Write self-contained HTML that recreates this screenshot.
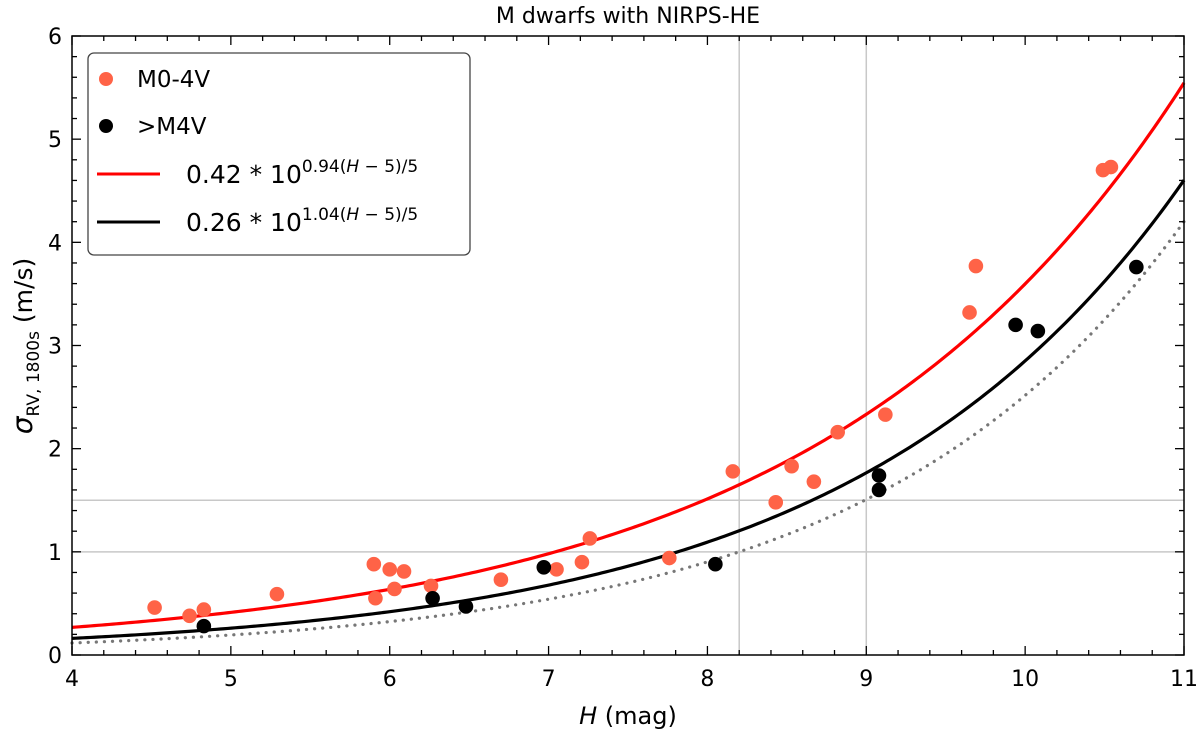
<!DOCTYPE html>
<html><head><meta charset="utf-8"><style>
body{margin:0;background:#fff;}
svg{display:block;font-family:"DejaVu Sans","Liberation Sans",sans-serif;}
</style></head><body>
<svg id="chart" width="1200" height="733" viewBox="0 0 1200 733">
<text x="628" y="23" text-anchor="middle" font-size="22">M dwarfs with NIRPS-HE</text>
<g id="grid"></g>
<g id="curves"></g>
<g id="points"></g>
<g id="axes"></g>
<text x="628" y="724" text-anchor="middle" font-size="24"><tspan font-style="italic">H</tspan> (mag)</text>
<text transform="translate(32,346) rotate(-90)" text-anchor="middle" font-size="25"><tspan font-style="italic" font-size="28">σ</tspan><tspan font-size="17" dy="7">RV, 1800s</tspan><tspan dy="-7"> (m/s)</tspan></text>
<g>
<rect x="88" y="53" width="382" height="202" rx="6" fill="#fff" stroke="#444" stroke-width="1.3"/>
<circle cx="106" cy="79" r="7" fill="#ff6347"/>
<text x="137" y="87" font-size="23">M0-4V</text>
<circle cx="106" cy="126" r="7" fill="#000"/>
<text x="137" y="134" font-size="23">&gt;M4V</text>
<line x1="97" y1="174" x2="160" y2="174" stroke="#ff0000" stroke-width="3"/>
<text x="186" y="183" font-size="25">0.42 * 10<tspan font-size="17" dy="-11">0.94(<tspan font-style="italic">H</tspan> − 5)/5</tspan></text>
<line x1="97" y1="222" x2="160" y2="222" stroke="#000" stroke-width="3"/>
<text x="186" y="231" font-size="25">0.26 * 10<tspan font-size="17" dy="-11">1.04(<tspan font-style="italic">H</tspan> − 5)/5</tspan></text>
</g>
</svg>
<script>
const redH=[4.52,4.74,4.83,5.29,5.90,5.91,6.00,6.03,6.09,6.26,6.70,7.05,7.21,7.26,7.76,8.16,8.43,8.53,8.67,8.82,9.12,9.65,9.69,10.49,10.54];
const redSigma=[0.46,0.38,0.44,0.59,0.88,0.55,0.83,0.64,0.81,0.67,0.73,0.83,0.90,1.13,0.94,1.78,1.48,1.83,1.68,2.16,2.33,3.32,3.77,4.70,4.73];
const blackH=[4.83,6.27,6.48,6.97,8.05,9.08,9.08,9.94,10.08,10.70];
const blackSigma=[0.28,0.55,0.47,0.85,0.88,1.74,1.60,3.20,3.14,3.76];
const fitRed=[0.413,0.94];
const fitBlack=[0.26,1.04];
const fitDotted=[0.194,1.113];
const xTicks=[4,5,6,7,8,9,10,11];
const yTicks=[0,1,2,3,4,5,6];
const vGrid=[8.2,9];
const hGrid=[1,1.5];

const L=72,R=1184,T=36,B=655,xmin=4,xmax=11,ymin=0,ymax=6;
const X=v=>L+(v-xmin)/(xmax-xmin)*(R-L);
const Y=v=>B-(v-ymin)/(ymax-ymin)*(B-T);
const NS='http://www.w3.org/2000/svg';
function mk(tag,attrs,parent){const e=document.createElementNS(NS,tag);for(const k in attrs)e.setAttribute(k,attrs[k]);parent.appendChild(e);return e;}
const grid=document.getElementById('grid'),curves=document.getElementById('curves'),pts=document.getElementById('points'),axes=document.getElementById('axes');
vGrid.forEach(v=>{const l=mk('line',{x1:X(v),x2:X(v),y1:T,y2:B,stroke:'#c8c8c8','stroke-width':1.5},grid);

});
hGrid.forEach(v=>{const l=mk('line',{x1:L,x2:R,y1:Y(v),y2:Y(v),stroke:'#c8c8c8','stroke-width':1.5},grid);

});
function curve(p,attrs,name){let d='';for(let i=0;i<=300;i++){const h=xmin+(xmax-xmin)*i/300;const s=p[0]*Math.pow(10,p[1]*(h-5)/5);d+=(i?'L':'M')+X(h).toFixed(2)+','+Y(s).toFixed(2);}
const e=mk('path',Object.assign({d:d,fill:'none'},attrs),curves);

}
curve(fitDotted,{stroke:'#777','stroke-width':3.2,'stroke-dasharray':'0.1 8','stroke-linecap':'round'},'dotted-curve');
curve(fitRed,{stroke:'#ff0000','stroke-width':3.2},'red-fit-curve');
curve(fitBlack,{stroke:'#000','stroke-width':3.2},'black-fit-curve');
redH.forEach((h,i)=>{const c=mk('circle',{cx:X(h),cy:Y(redSigma[i]),r:7.3,fill:'#ff6347'},pts);

});
blackH.forEach((h,i)=>{const c=mk('circle',{cx:X(h),cy:Y(blackSigma[i]),r:7.3,fill:'#000'},pts);

});
const frame=mk('rect',{x:L,y:T,width:R-L,height:B-T,fill:'none',stroke:'#000','stroke-width':1.5},axes);


for(let v=xmin;v<=xmax+1e-9;v+=0.2){const major=Math.abs(v-Math.round(v))<1e-6;const len=major?9:5;
mk('line',{x1:X(v),x2:X(v),y1:B,y2:B-len,stroke:'#000','stroke-width':1.3},axes);
mk('line',{x1:X(v),x2:X(v),y1:T,y2:T+len,stroke:'#000','stroke-width':1.3},axes);}
for(let v=ymin;v<=ymax+1e-9;v+=0.2){const major=Math.abs(v-Math.round(v))<1e-6;const len=major?9:5;
mk('line',{x1:L,x2:L+len,y1:Y(v),y2:Y(v),stroke:'#000','stroke-width':1.3},axes);
mk('line',{x1:R,x2:R-len,y1:Y(v),y2:Y(v),stroke:'#000','stroke-width':1.3},axes);}
xTicks.forEach(v=>{const t=mk('text',{x:X(v),y:B+31,'text-anchor':'middle','font-size':22},axes);t.textContent=v;

});
yTicks.forEach(v=>{const t=mk('text',{x:L-10,y:Y(v)+8,'text-anchor':'end','font-size':22},axes);t.textContent=v;

});
</script>
</body></html>
